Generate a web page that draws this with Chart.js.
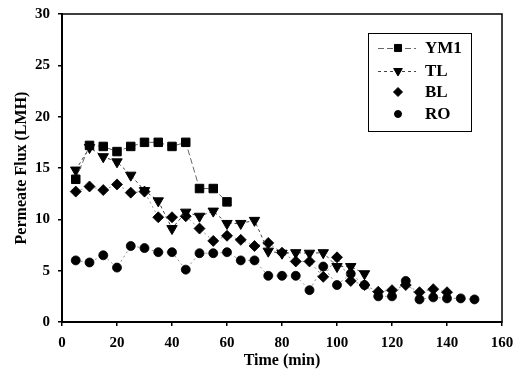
<!DOCTYPE html>
<html>
<head>
<meta charset="utf-8">
<script src="https://cdn.jsdelivr.net/npm/chart.js@4.4.0/dist/chart.umd.min.js"></script>
<style>
  html, body { margin: 0; padding: 0; background: #fff; }
  #wrap { width: 513px; height: 383px; }
</style>
</head>
<body>
<div id="wrap"><canvas id="mycanvas" width="513" height="383"></canvas></div>
<script>
// time points (min)
var times = [5, 10, 15, 20, 25, 30, 35, 40, 45, 50, 55, 60, 65, 70, 75,
             80, 85, 90, 95, 100, 105, 110, 115, 120, 125, 130, 135, 140, 145, 150];

// permeate flux (LMH), null = no point
var ym1 = [13.9, 17.2, 17.1, 16.6, 17.1, 17.5, 17.5, 17.1, 17.5, 13.0, 13.0, 11.7,
           null, null, null, null, null, null, null, null, null, null, null, null,
           null, null, null, null, null, null];
var tl  = [14.8, 17.0, 16.1, 15.6, 14.3, 12.8, 11.8, 9.1, 10.7, 10.3, 10.8, 9.6,
           9.6, 9.9, 6.9, 6.7, 6.75, 6.7, 6.75, 5.4, 5.4, 4.7, null, null,
           null, null, null, null, null, null];
var bl  = [12.7, 13.2, 12.85, 13.4, 12.6, 12.7, 10.2, 10.2, 10.3, 9.1, 7.9, 8.4,
           8.0, 7.4, 7.7, 6.75, 5.9, 5.9, 4.4, 6.3, 4.0, 3.6, 2.95, 3.1,
           3.6, 2.9, 3.2, 2.9, null, null];
var ro  = [6.0, 5.8, 6.5, 5.3, 7.4, 7.2, 6.8, 6.8, 5.1, 6.7, 6.7, 6.8,
           6.0, 6.0, 4.5, 4.5, 4.5, 3.1, 5.4, 3.6, 4.7, 3.6, 2.5, 2.5,
           4.0, 2.2, 2.4, 2.3, 2.3, 2.2];

var yTicks = [0, 5, 10, 15, 20, 25, 30];
var xTicks = [0, 20, 40, 60, 80, 100, 120, 140, 160];

var serif = "'Liberation Serif', 'Times New Roman', serif";

function pts(vals) {
  var out = [];
  for (var i in vals) {
    if (vals[i] !== null) out.push({x: times[i], y: vals[i]});
  }
  return out;
}

var chartdata = {
  datasets: [
    {label: 'YM1', data: pts(ym1), borderColor: '#666', borderWidth: 1, borderDash: [6, 3],
     pointStyle: 'rect', pointRadius: 6, backgroundColor: '#000', pointBorderColor: '#000', legendLine: [6, 3]},
    {label: 'TL', data: pts(tl), borderColor: '#444', borderWidth: 1, borderDash: [3, 3],
     pointStyle: 'triangle', pointRotation: 180, pointRadius: 6, backgroundColor: '#000', pointBorderColor: '#000', legendLine: [3, 3]},
    {label: 'BL', data: pts(bl), borderColor: '#777', borderWidth: 0.8, borderDash: [2, 3],
     pointStyle: 'rectRot', pointRadius: 5.5, backgroundColor: '#000', pointBorderColor: '#000', legendLine: null},
    {label: 'RO', data: pts(ro), borderColor: '#777', borderWidth: 0.8, borderDash: [2, 3],
     pointStyle: 'circle', pointRadius: 4.5, backgroundColor: '#000', pointBorderColor: '#000', legendLine: null}
  ]
};

// box around plot + legend drawn inside the plot
var framePlugin = {
  id: 'frame',
  afterDraw: function(chart) {
    var ctx = chart.ctx, a = chart.chartArea;
    ctx.save();
    ctx.strokeStyle = '#000';
    ctx.lineWidth = 1.5;
    ctx.strokeRect(a.left, a.top, a.right - a.left, a.bottom - a.top);

    // legend box
    var bx = 368, by = 33, bw = 103, bh = 98;
    ctx.fillStyle = '#fff';
    ctx.fillRect(bx, by, bw, bh);
    ctx.lineWidth = 1;
    ctx.strokeRect(bx + 0.5, by + 0.5, bw, bh);
    var rows = [48, 71, 92, 114];
    var ds = chart.data.datasets;
    for (var i = 0; i < ds.length; i++) {
      var y = rows[i];
      if (ds[i].legendLine) {
        ctx.beginPath();
        ctx.setLineDash(ds[i].legendLine);
        ctx.strokeStyle = ds[i].borderColor;
        ctx.lineWidth = 1;
        ctx.moveTo(378, y + 0.5);
        ctx.lineTo(416, y + 0.5);
        ctx.stroke();
        ctx.setLineDash([]);
      }
      ctx.fillStyle = '#000';
      ctx.strokeStyle = '#000';
      Chart.helpers.drawPoint(ctx, {
        pointStyle: ds[i].pointStyle,
        rotation: ds[i].pointRotation || 0,
        radius: ds[i].pointRadius - 1,
        borderWidth: 1
      }, 398, y);
      ctx.font = 'bold 17px ' + serif;
      ctx.textAlign = 'left';
      ctx.textBaseline = 'middle';
      ctx.fillText(ds[i].label, 425, y + 1);
    }
    ctx.restore();
  }
};

var ctx = document.getElementById('mycanvas');
var lineGraph = new Chart(ctx, {
  type: 'line',
  data: chartdata,
  plugins: [framePlugin],
  options: {
    responsive: false,
    animation: false,
    layout: {padding: {left: 4, top: 14, right: 11, bottom: 4}},
    plugins: {legend: {display: false}, tooltip: {enabled: false}},
    elements: {line: {tension: 0}},
    scales: {
      x: {
        type: 'linear', min: 0, max: 160,
        afterBuildTicks: function(s) { s.ticks = xTicks.map(function(v) { return {value: v}; }); },
        afterFit: function(s) { s.height = 57; s.paddingLeft = 0; s.paddingRight = 0; },
        ticks: {color: '#000', padding: 8, maxRotation: 0, font: {family: serif, size: 15, weight: 'bold'}},
        grid: {drawOnChartArea: false, tickLength: 4, color: '#000', lineWidth: 1.5},
        border: {color: '#000', width: 2},
        title: {display: true, text: 'Time (min)', color: '#000', padding: {top: 0, bottom: 9},
                font: {family: serif, size: 16, weight: 'bold'}}
      },
      y: {
        min: 0, max: 30,
        afterBuildTicks: function(s) { s.ticks = yTicks.map(function(v) { return {value: v}; }); },
        afterFit: function(s) { s.width = 58; s.paddingTop = 0; s.paddingBottom = 0; },
        ticks: {color: '#000', padding: 8, font: {family: serif, size: 15, weight: 'bold'}},
        grid: {drawOnChartArea: false, tickLength: 4, color: '#000', lineWidth: 1.5},
        border: {color: '#000', width: 2},
        title: {display: true, text: 'Permeate Flux (LMH)', color: '#000', padding: {top: 8, bottom: 0},
                font: {family: serif, size: 16, weight: 'bold'}}
      }
    }
  }
});
</script>
</body>
</html>
